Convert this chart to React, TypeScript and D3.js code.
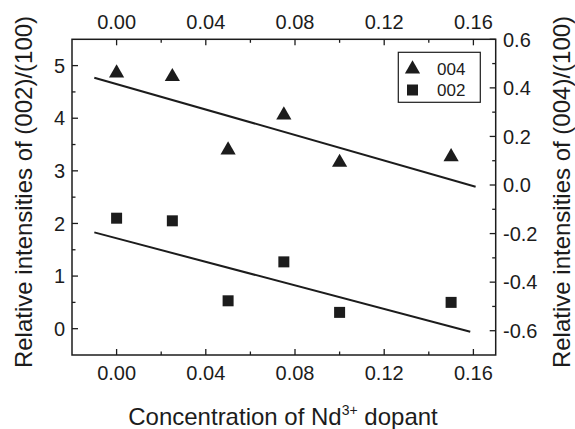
import * as d3 from 'd3';

const W = 575;
const H = 429;

// plot frame
const frame = { left: 72, right: 495.7, top: 39.3, bottom: 355 };

const conc = [0, 0.025, 0.05, 0.075, 0.1, 0.15];
const ratio004 = [0.461, 0.446, 0.144, 0.288, 0.093, 0.116];
const ratio002 = [2.1, 2.05, 0.53, 1.27, 0.31, 0.5];

// linear fit lines (end points)
const fitX004 = [-0.01, 0.161];
const fitY004 = [0.442, -0.007];
const fitX002 = [-0.01, 0.1586];
const fitY002 = [1.83, -0.057];

const xTicks = [0, 0.04, 0.08, 0.12, 0.16];
const xMinor = [0.02, 0.06, 0.1, 0.14];
const leftTicks = [0, 1, 2, 3, 4, 5];
const leftMinor = [0.5, 1.5, 2.5, 3.5, 4.5];
const rightTicks = [-0.6, -0.4, -0.2, 0, 0.2, 0.4, 0.6];
const rightMinor = [-0.5, -0.3, -0.1, 0.1, 0.3, 0.5];

const font = 'Arial, "Liberation Sans", Helvetica, sans-serif';
const ink = '#1c1c1c';

const App = () => {
  const x = d3.scaleLinear().domain([-0.02, 0.17]).range([frame.left, frame.right]);
  const yL = d3.scaleLinear().domain([-0.5, 5.5]).range([frame.bottom, frame.top]);
  const yR = d3.scaleLinear().domain([-0.7, 0.6]).range([frame.bottom, frame.top]);

  const line = d3.line<[number, number]>();
  const fit004 = line(fitX004.map((v, i) => [x(v), yR(fitY004[i])]));
  const fit002 = line(fitX002.map((v, i) => [x(v), yL(fitY002[i])]));

  const tri = d3.symbol().type(d3.symbolTriangle).size(100)();
  const sq = d3.symbol().type(d3.symbolSquare).size(121)();

  const major = 6;
  const minor = 3.5;
  const midY = 192;

  return (
    <svg width={W} height={H} style={{ position: 'absolute', left: 0, top: 0, background: '#fff' }}>
      <g fontFamily={font} fill={ink}>
        {/* frame */}
        <rect x={frame.left} y={frame.top} width={frame.right - frame.left} height={frame.bottom - frame.top}
          fill="none" stroke={ink} strokeWidth={1.5} />

        {/* bottom + top ticks */}
        {xTicks.map((t) => (
          <g key={'x' + t}>
            <line x1={x(t)} x2={x(t)} y1={frame.bottom} y2={frame.bottom - major} stroke={ink} strokeWidth={1.3} />
            <line x1={x(t)} x2={x(t)} y1={frame.top} y2={frame.top + major} stroke={ink} strokeWidth={1.3} />
            <text x={x(t)} y={379.5} fontSize={20} textAnchor="middle">{t.toFixed(2)}</text>
            <text x={x(t)} y={28.5} fontSize={20} textAnchor="middle">{t.toFixed(2)}</text>
          </g>
        ))}
        {xMinor.map((t) => (
          <g key={'xm' + t}>
            <line x1={x(t)} x2={x(t)} y1={frame.bottom} y2={frame.bottom - minor} stroke={ink} strokeWidth={1.3} />
            <line x1={x(t)} x2={x(t)} y1={frame.top} y2={frame.top + minor} stroke={ink} strokeWidth={1.3} />
          </g>
        ))}

        {/* left axis */}
        {leftTicks.map((t) => (
          <g key={'l' + t}>
            <line x1={frame.left} x2={frame.left + major} y1={yL(t)} y2={yL(t)} stroke={ink} strokeWidth={1.3} />
            <text x={65} y={yL(t)} dy="0.36em" fontSize={20} textAnchor="end">{t}</text>
          </g>
        ))}
        {leftMinor.map((t) => (
          <line key={'lm' + t} x1={frame.left} x2={frame.left + minor} y1={yL(t)} y2={yL(t)} stroke={ink} strokeWidth={1.3} />
        ))}

        {/* right axis */}
        {rightTicks.map((t) => (
          <g key={'r' + t}>
            <line x1={frame.right} x2={frame.right - major} y1={yR(t)} y2={yR(t)} stroke={ink} strokeWidth={1.3} />
            <text x={503} y={yR(t)} dy="0.36em" fontSize={20} textAnchor="start">{t.toFixed(1)}</text>
          </g>
        ))}
        {rightMinor.map((t) => (
          <line key={'rm' + t} x1={frame.right} x2={frame.right - minor} y1={yR(t)} y2={yR(t)} stroke={ink} strokeWidth={1.3} />
        ))}

        {/* axis titles */}
        <text transform={`translate(32,${midY}) rotate(-90)`} fontSize={24} textAnchor="middle">
          Relative intensities of (002)/(100)
        </text>
        <text transform={`translate(570,${midY}) rotate(-90)`} fontSize={24} textAnchor="middle">
          Relative intensities of (004)/(100)
        </text>
        <text x={283} y={425} fontSize={24} textAnchor="middle">
          Concentration of Nd<tspan fontSize={14} dy={-10}>3+</tspan><tspan dy={10}> dopant</tspan>
        </text>

        {/* fit lines */}
        <path d={fit004 ?? ''} fill="none" stroke={ink} strokeWidth={2} />
        <path d={fit002 ?? ''} fill="none" stroke={ink} strokeWidth={2} />

        {/* markers */}
        {conc.map((c, i) => (
          <path key={'t' + i} d={tri ?? ''} transform={`translate(${x(c)},${yR(ratio004[i])})`} fill={ink} />
        ))}
        {conc.map((c, i) => (
          <path key={'s' + i} d={sq ?? ''} transform={`translate(${x(c)},${yL(ratio002[i])})`} fill={ink} />
        ))}

        {/* legend */}
        <rect x={398.3} y={52.3} width={82} height={50} fill="#fff" stroke={ink} strokeWidth={1.2} />
        <path d={tri ?? ''} transform="translate(412.5,69)" fill={ink} />
        <text x={437} y={69} dy="0.36em" fontSize={17}>004</text>
        <path d={sq ?? ''} transform="translate(412.5,90)" fill={ink} />
        <text x={437} y={90} dy="0.36em" fontSize={17}>002</text>
      </g>
    </svg>
  );
};

export default App;
